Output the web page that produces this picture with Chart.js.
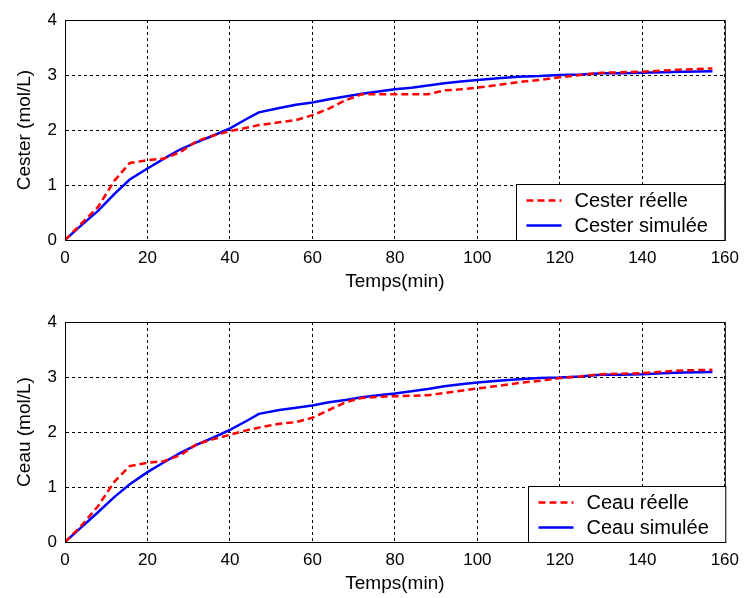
<!DOCTYPE html>
<html>
<head>
<meta charset="utf-8">
<script src="https://cdn.jsdelivr.net/npm/chart.js@4.4.0/dist/chart.umd.min.js"></script>
<style>
body{margin:0;background:#fff;}
canvas{display:block;}
</style>
</head>
<body>
<canvas id="chartCester" width="747" height="300"></canvas>
<canvas id="chartCeau" width="747" height="298"></canvas>
<script>
// time (min)
var temps = [0, 4, 8, 12, 15.7, 20, 24, 28, 32, 36, 40, 44, 47, 52, 56, 60, 64, 68, 72, 76, 80, 84, 88, 92, 96, 100, 105, 110, 115, 120, 125, 130, 135, 140, 145, 150, 157];

// top plot
var cesterReelle = [0, 0.3, 0.6, 1.08, 1.4, 1.45, 1.48, 1.6, 1.8, 1.9, 1.98, 2.04, 2.09, 2.14, 2.18, 2.27, 2.39, 2.54, 2.65, 2.65, 2.65, 2.65, 2.65, 2.72, 2.74, 2.77, 2.82, 2.87, 2.91, 2.96, 3.0, 3.04, 3.05, 3.06, 3.08, 3.1, 3.12];
var cesterSimulee = [0, 0.27, 0.53, 0.84, 1.1, 1.3, 1.48, 1.65, 1.78, 1.9, 2.03, 2.2, 2.32, 2.4, 2.46, 2.5, 2.56, 2.61, 2.66, 2.7, 2.74, 2.77, 2.81, 2.85, 2.88, 2.91, 2.94, 2.97, 2.98, 3.0, 3.01, 3.03, 3.03, 3.04, 3.05, 3.06, 3.07];

// bottom plot
var ceauReelle = [0, 0.3, 0.65, 1.1, 1.38, 1.44, 1.47, 1.58, 1.78, 1.87, 1.95, 2.03, 2.08, 2.15, 2.18, 2.26, 2.4, 2.54, 2.62, 2.64, 2.65, 2.66, 2.67, 2.71, 2.75, 2.79, 2.84, 2.89, 2.93, 2.98, 3.01, 3.05, 3.06, 3.07, 3.1, 3.12, 3.13];
var ceauSimulee = [0, 0.27, 0.54, 0.82, 1.05, 1.27, 1.45, 1.62, 1.77, 1.9, 2.04, 2.2, 2.33, 2.4, 2.44, 2.48, 2.54, 2.58, 2.63, 2.67, 2.7, 2.74, 2.78, 2.83, 2.87, 2.9, 2.93, 2.96, 2.98, 2.99, 3.01, 3.04, 3.04, 3.05, 3.07, 3.08, 3.09];

var xTicks = [0, 20, 40, 60, 80, 100, 120, 140, 160];
var yTicks = [0, 1, 2, 3, 4];

var fontFam = "'Liberation Sans', Arial, sans-serif";

function toPoints(values){
    return temps.map(function(t, i){ return {x: t, y: values[i]}; });
}

// box around the axes + legend in the lower right corner (matlab style)
var boxLegend = {
    id: 'boxLegend',
    afterDraw: function(chart){
        var ctx = chart.ctx;
        var a = chart.chartArea;
        ctx.save();
        ctx.strokeStyle = '#000';
        ctx.lineWidth = 1;
        ctx.setLineDash([]);
        ctx.strokeRect(a.left + 0.5, a.top + 0.5, a.right - a.left, a.bottom - a.top);

        ctx.font = '20px ' + fontFam;
        var sets = chart.data.datasets;
        var maxW = 0;
        for(var i = 0; i < sets.length; i++){
            maxW = Math.max(maxW, ctx.measureText(sets[i].label).width);
        }
        var w = 10 + 35 + 13 + maxW + 17;
        var h = 56;
        var left = Math.round(a.right - w) + 0.5;
        var top = Math.round(a.bottom - h) + 0.5;
        ctx.fillStyle = '#fff';
        ctx.fillRect(left, top, w, h);
        ctx.strokeRect(left, top, w, h);

        ctx.textBaseline = 'middle';
        for(var i = 0; i < sets.length; i++){
            var y = top + 16 + i * 25;
            ctx.strokeStyle = sets[i].borderColor;
            ctx.lineWidth = sets[i].borderWidth;
            ctx.setLineDash(sets[i].borderDash || []);
            ctx.beginPath();
            ctx.moveTo(left + 10, y);
            ctx.lineTo(left + 45, y);
            ctx.stroke();
            ctx.fillStyle = '#000';
            ctx.fillText(sets[i].label, left + 58, y + 1);
        }
        ctx.restore();
    }
};

function makeChart(id, yTitle, reel, simu, labels, padTop, xHeight, xTitlePad){
    return new Chart(document.getElementById(id), {
        type: 'line',
        data: {
            datasets: [
                {
                    label: labels[0],
                    data: toPoints(reel),
                    borderColor: '#ff0000',
                    borderWidth: 2.5,
                    borderDash: [7, 4],
                    pointRadius: 0,
                    tension: 0
                },
                {
                    label: labels[1],
                    data: toPoints(simu),
                    borderColor: '#0000ff',
                    borderWidth: 2.5,
                    pointRadius: 0,
                    tension: 0
                }
            ]
        },
        options: {
            responsive: false,
            animation: false,
            devicePixelRatio: 1,
            layout: {padding: {top: padTop, right: 18, left: 0, bottom: 0}},
            plugins: {legend: {display: false}, tooltip: {enabled: false}},
            scales: {
                x: {
                    type: 'linear',
                    min: 0,
                    max: 160,
                    afterBuildTicks: function(s){ s.ticks = xTicks.map(function(v){ return {value: v}; }); },
                    afterFit: function(s){ s.height = xHeight; },
                    grid: {color: '#000', lineWidth: 1, drawTicks: false},
                    border: {display: true, color: '#000', dash: [3, 3]},
                    ticks: {color: '#000', padding: 8, maxRotation: 0, font: {family: fontFam, size: 17}},
                    title: {display: true, text: 'Temps(min)', color: '#000', font: {family: fontFam, size: 19}, padding: {top: xTitlePad, bottom: xTitlePad}}
                },
                y: {
                    min: 0,
                    max: 4,
                    afterBuildTicks: function(s){ s.ticks = yTicks.map(function(v){ return {value: v}; }); },
                    afterFit: function(s){ s.width = 65; },
                    grid: {color: '#000', lineWidth: 1, drawTicks: false},
                    border: {display: true, color: '#000', dash: [3, 3]},
                    ticks: {color: '#000', padding: 8, font: {family: fontFam, size: 17}},
                    title: {display: true, text: yTitle, color: '#000', font: {family: fontFam, size: 19}, padding: {top: 13, bottom: 13}}
                }
            }
        },
        plugins: [boxLegend]
    });
}

makeChart('chartCester', 'Cester (mol/L)', cesterReelle, cesterSimulee, ['Cester réelle', 'Cester simulée'], 20, 60, 7);
makeChart('chartCeau', 'Ceau (mol/L)', ceauReelle, ceauSimulee, ['Ceau réelle', 'Ceau simulée'], 22, 56, 3);
</script>
</body>
</html>
